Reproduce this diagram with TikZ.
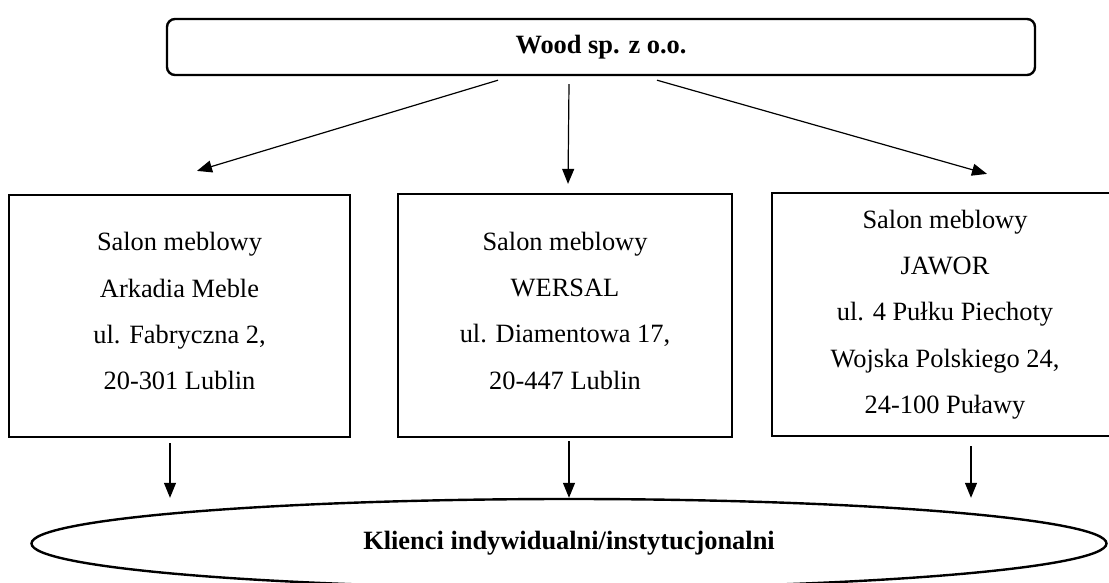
\documentclass[tikz,border=0pt]{standalone}
\usepackage{fontspec}
\setmainfont{Liberation Serif}
\usetikzlibrary{arrows.meta,positioning,shapes.geometric}

\begin{document}
\begin{tikzpicture}[x=1pt,y=-1pt,font=\fontsize{26.4pt}{46.3pt}\selectfont,
    salon/.style={draw,line width=2.2pt,align=center,anchor=center},
    arr/.style={-{Triangle[length=15pt,width=12pt]},line width=1.2pt}]
    \useasboundingbox[fill=white] (0,0) rectangle (1109,583);
    % firma
    \node (wood) [draw,line width=2.4pt,rounded corners=8pt,minimum width=868pt,minimum height=56pt] at (601,47) {\textbf{Wood sp. z o.o.}};
    % salony
    \node (arkadia) [salon,text depth=10pt,minimum width=341pt,minimum height=242pt] at (179.5,316) {Salon meblowy\\Arkadia Meble\\ul. Fabryczna 2,\\20-301 Lublin};
    \node (wersal) [salon,text depth=10pt,minimum width=334pt,minimum height=243pt] at (565,315.5) {Salon meblowy\\WERSAL\\ul. Diamentowa 17,\\20-447 Lublin};
    \node (jawor) [salon,minimum width=346pt,minimum height=243pt] at (945,314.5) {Salon meblowy\\JAWOR\\ul. 4 Pułku Piechoty\\Wojska Polskiego 24,\\24-100 Puławy};
    % klienci
    \node (klienci) [draw,ellipse,line width=2.4pt,inner sep=0pt,minimum width=1075pt,minimum height=89pt] at (569,543.5) {\textbf{Klienci indywidualni/instytucjonalni}};
    \draw[arr] ([xshift=-103pt,yshift=-4pt]wood.south) -- ([xshift=17.5pt,yshift=23pt]arkadia.north);
    \draw[arr] ([xshift=-32pt,yshift=-8pt]wood.south) -- ([xshift=3pt,yshift=9pt]wersal.north);
    \draw[arr] ([xshift=56pt,yshift=-4pt]wood.south) -- ([xshift=42pt,yshift=18pt]jawor.north);
    \coordinate (d1) at ([xshift=-9.5pt,yshift=-5pt]arkadia.south);
    \coordinate (d2) at ([xshift=4pt,yshift=-3pt]wersal.south);
    \coordinate (d3) at ([xshift=26pt,yshift=-9pt]jawor.south);
    \foreach \d in {d1,d2,d3}
        \draw[arr] (\d) -- (\d |- klienci.north);
\end{tikzpicture}
\end{document}
